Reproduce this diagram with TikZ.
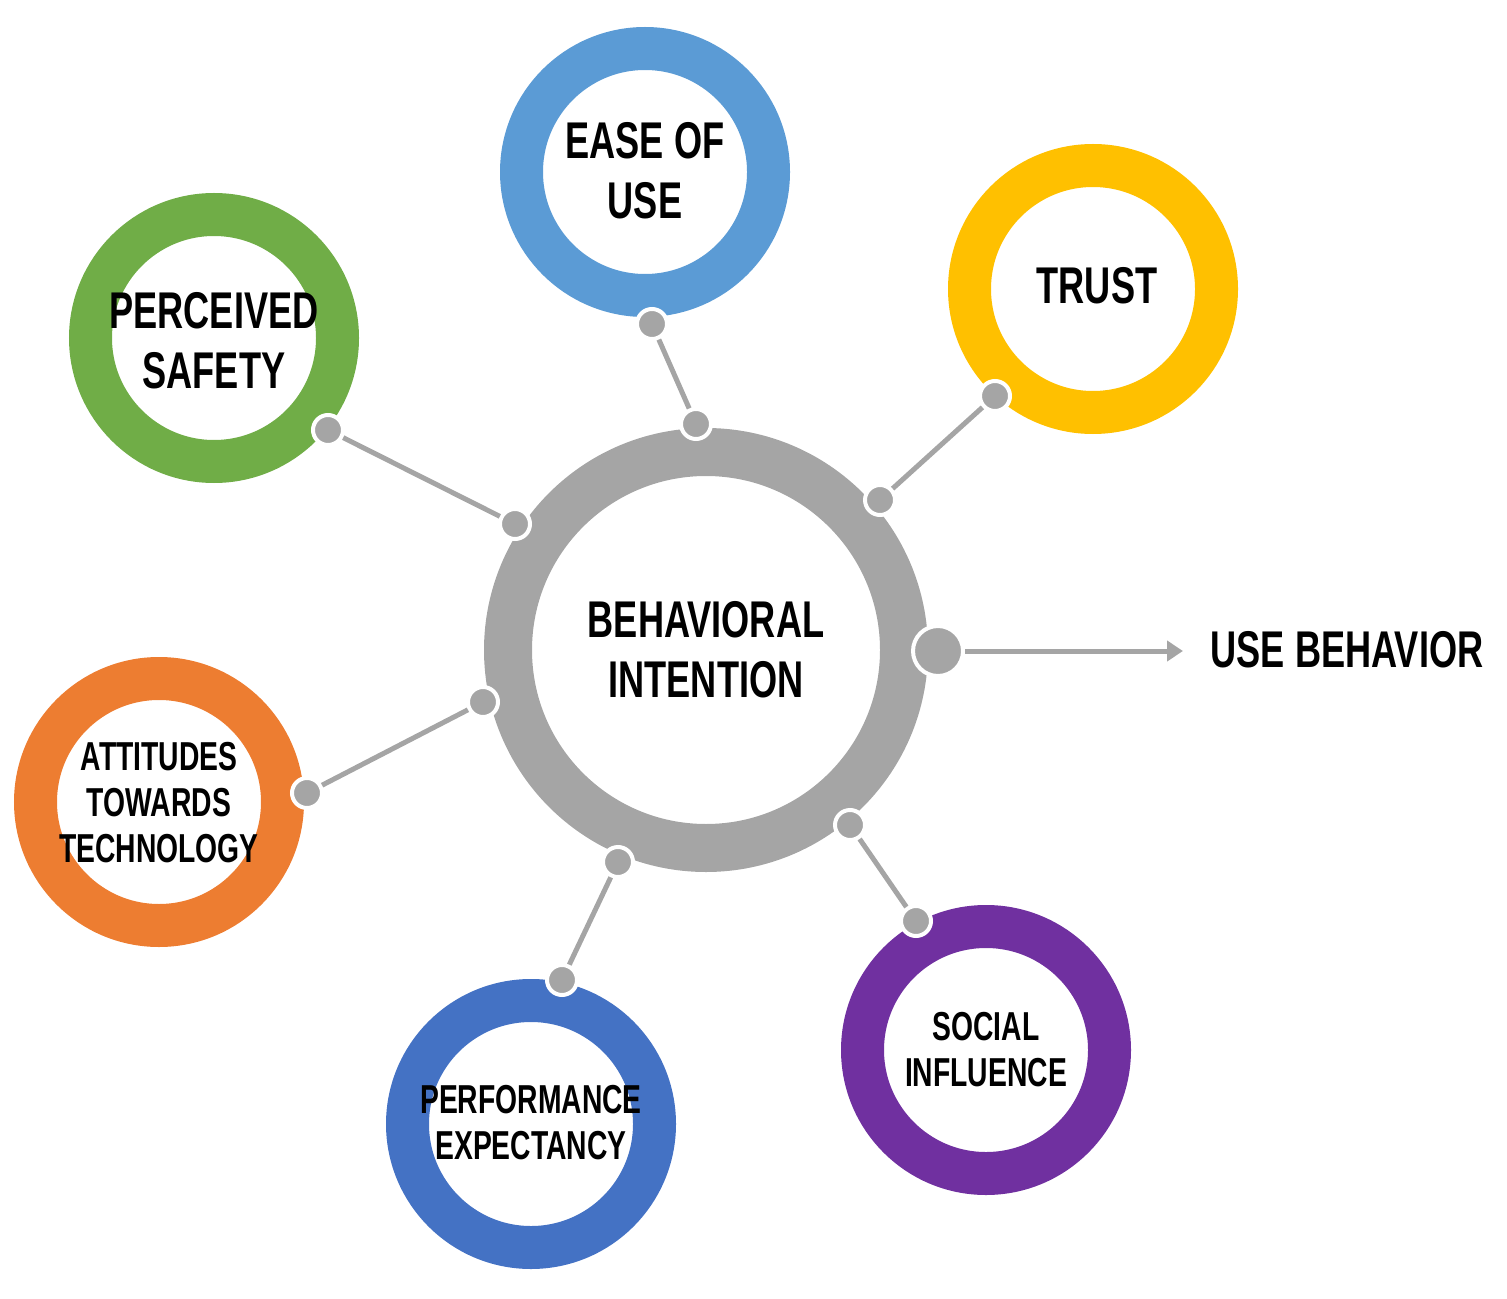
\documentclass[tikz,border=0pt]{standalone}
\usepackage{fontspec}
\setmainfont[FakeStretch=0.70]{Liberation Sans}
\usepackage{tikz}
\usetikzlibrary{arrows.meta}
\definecolor{bigray}{HTML}{A5A5A5}
\definecolor{easeblue}{HTML}{5B9BD5}
\definecolor{trustyellow}{HTML}{FFC000}
\definecolor{safegreen}{HTML}{70AD47}
\definecolor{attorange}{HTML}{ED7D31}
\definecolor{perfblue}{HTML}{4472C4}
\definecolor{socpurple}{HTML}{7030A0}
\tikzstyle{ring} = [circle, line width=0.43cm, minimum size=2.47cm, inner sep=0pt]
\tikzstyle{bigtxt} = [align=center, font=\fontsize{14.7}{17}\selectfont\bfseries]
\tikzstyle{smalltxt} = [align=center, font=\fontsize{11.5}{13.1}\selectfont\bfseries]
\tikzstyle{dot} = [circle, fill=bigray, draw=white, line width=0.04cm, minimum size=0.3cm, inner sep=0pt]
\tikzstyle{link} = [draw=bigray, line width=0.05cm]

\begin{document}
\begin{tikzpicture}[>={Triangle[length=0.16cm,width=0.2cm]}]
	\useasboundingbox (0,0) rectangle (15.07,12.98);
	% centre
	\node[circle, draw=bigray, line width=0.48cm, minimum size=3.96cm, inner sep=0pt] (bi) at (7.06,6.48) {};
	\node[bigtxt] (bi-txt) at (bi.center) {BEHAVIORAL\\INTENTION};
	% outer rings
	\node[ring, draw=easeblue] (ease) at (6.45,11.26) {};
	\node[ring, draw=trustyellow] (trust) at (10.93,10.09) {};
	\node[ring, draw=safegreen] (safe) at (2.14,9.60) {};
	\node[ring, draw=attorange] (att) at (1.59,4.96) {};
	\node[ring, draw=perfblue] (perf) at (5.31,1.74) {};
	\node[ring, draw=socpurple] (soc) at (9.86,2.48) {};
	\node[bigtxt] (ease-txt) at (6.45,11.27) {EASE OF\\USE};
	\node[bigtxt] (trust-txt) at (10.97,10.12) {TRUST};
	\node[bigtxt] (safe-txt) at (2.14,9.57) {PERCEIVED\\SAFETY};
	\node[smalltxt] (att-txt) at (1.59,4.95) {ATTITUDES\\TOWARDS\\TECHNOLOGY};
	\node[smalltxt] (perf-txt) at (5.31,1.75) {PERFORMANCE\\EXPECTANCY};
	\node[smalltxt] (soc-txt) at (9.86,2.48) {SOCIAL\\INFLUENCE};
	% connectors
	\node[dot] (e1) at (6.52,9.74) {};
	\node[dot] (e2) at (6.96,8.74) {};
	\node[dot] (t1) at (9.95,9.02) {};
	\node[dot] (t2) at (8.80,7.98) {};
	\node[dot] (s1) at (3.28,8.68) {};
	\node[dot] (s2) at (5.15,7.74) {};
	\node[dot] (a1) at (3.07,5.05) {};
	\node[dot] (a2) at (4.83,5.96) {};
	\node[dot] (p1) at (5.62,3.18) {};
	\node[dot] (p2) at (6.18,4.36) {};
	\node[dot] (so1) at (9.16,3.77) {};
	\node[dot] (so2) at (8.50,4.73) {};
	\draw[link] (e1) -- (e2);
	\draw[link] (t1) -- (t2);
	\draw[link] (s1) -- (s2);
	\draw[link] (a1) -- (a2);
	\draw[link] (p1) -- (p2);
	\draw[link] (so1) -- (so2);
	% output
	\node[dot, minimum size=0.5cm] (out) at (9.38,6.47) {};
	\node[bigtxt, anchor=west, inner sep=0pt] (use) at (12.10,6.48) {USE BEHAVIOR};
	\coordinate (tip) at (11.83,6.47);
	\draw[link, ->, bigray] (out) -- (tip);
\end{tikzpicture}
\end{document}
